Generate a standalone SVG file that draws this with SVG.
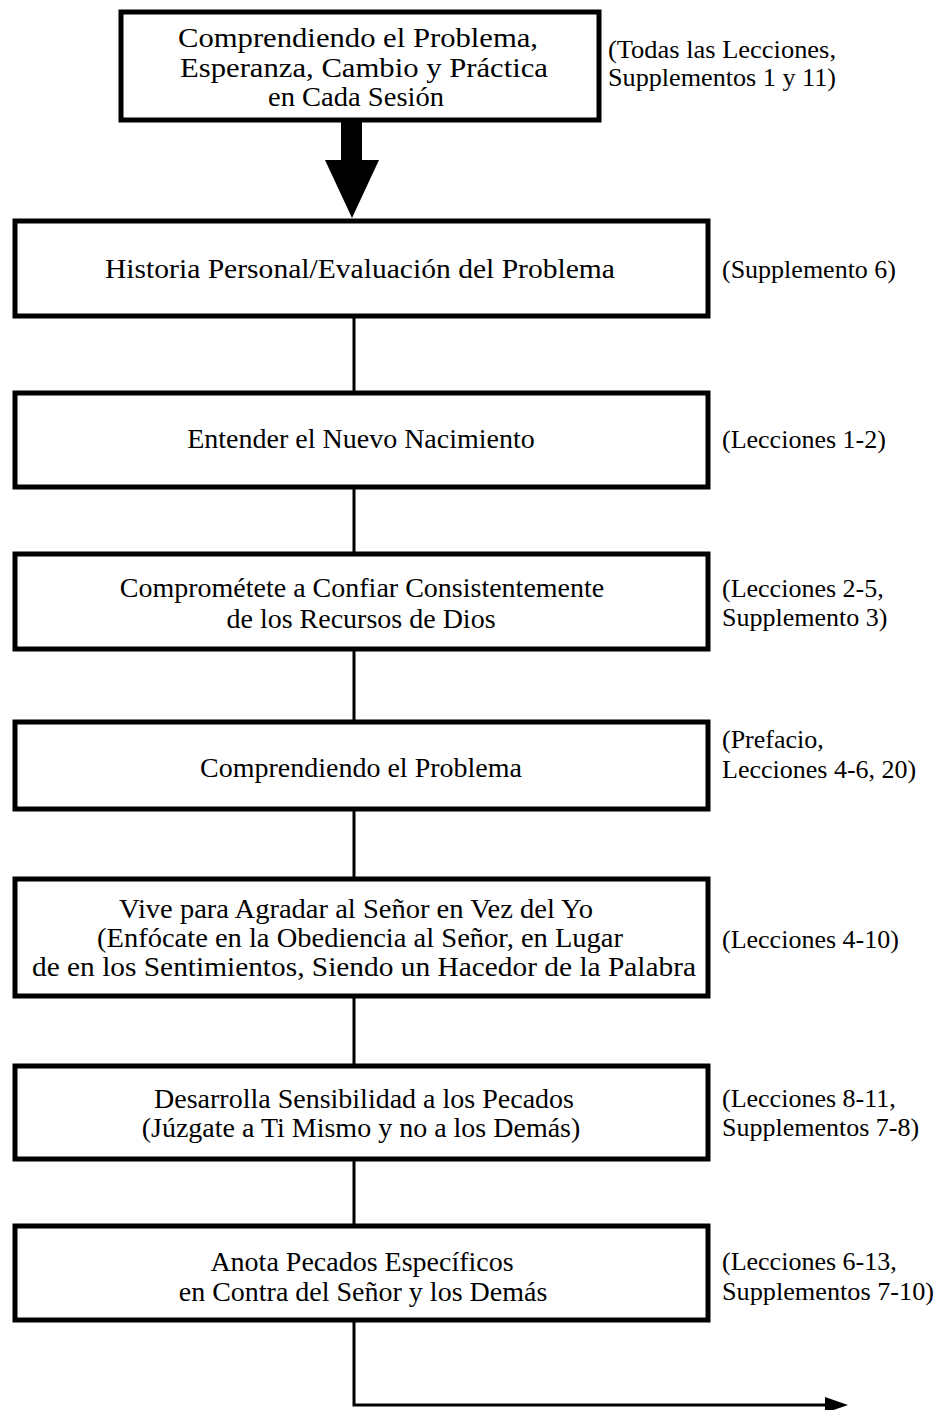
<svg xmlns="http://www.w3.org/2000/svg" width="940" height="1410" viewBox="0 0 940 1410">
<defs>
<style>
.box{fill:#fff;stroke:#000;stroke-width:5}
.t{font-family:"Liberation Serif","Times New Roman",serif;font-size:28px;fill:#000;text-anchor:middle}
.l{font-family:"Liberation Serif","Times New Roman",serif;font-size:26px;fill:#000}
.c{fill:none;stroke:#000;stroke-width:3}
</style>
</defs>
<rect width="940" height="1410" fill="#fff"/>
<g id="connectors">
<polygon points="341,121 362,121 362,160 379,160 352,218 325,160 341,160" fill="#000"/>
<line class="c" x1="354" y1="316" x2="354" y2="393"/>
<line class="c" x1="354" y1="487" x2="354" y2="554"/>
<line class="c" x1="354" y1="649" x2="354" y2="722"/>
<line class="c" x1="354" y1="809" x2="354" y2="879"/>
<line class="c" x1="354" y1="996" x2="354" y2="1066"/>
<line class="c" x1="354" y1="1159" x2="354" y2="1226"/>
<polyline class="c" points="354,1320 354,1405 826,1405"/>
<polygon points="825,1397 848,1405 825,1413" fill="#000"/>
</g>
<g id="n1">
<rect class="box" x="121" y="12" width="478" height="108"/>
<text class="t" x="358" y="47" textLength="360" lengthAdjust="spacingAndGlyphs">Comprendiendo el Problema,</text>
<text class="t" x="364" y="77" textLength="368" lengthAdjust="spacingAndGlyphs">Esperanza, Cambio y Práctica</text>
<text class="t" x="356" y="106" textLength="176" lengthAdjust="spacingAndGlyphs">en Cada Sesión</text>
<text class="l" x="608" y="58" textLength="228" lengthAdjust="spacingAndGlyphs">(Todas las Lecciones,</text>
<text class="l" x="608" y="86" textLength="228" lengthAdjust="spacingAndGlyphs">Supplementos 1 y 11)</text>
</g>
<g id="n2">
<rect class="box" x="15" y="221" width="693" height="95"/>
<text class="t" x="360" y="278" textLength="510" lengthAdjust="spacingAndGlyphs">Historia Personal/Evaluación del Problema</text>
<text class="l" x="722" y="278">(Supplemento 6)</text>
</g>
<g id="n3">
<rect class="box" x="15" y="393" width="693" height="94"/>
<text class="t" x="361" y="448">Entender el Nuevo Nacimiento</text>
<text class="l" x="722" y="448">(Lecciones 1-2)</text>
</g>
<g id="n4">
<rect class="box" x="15" y="554" width="693" height="95"/>
<text class="t" x="362" y="597">Comprométete a Confiar Consistentemente</text>
<text class="t" x="361" y="628">de los Recursos de Dios</text>
<text class="l" x="722" y="597">(Lecciones 2-5,</text>
<text class="l" x="722" y="626">Supplemento 3)</text>
</g>
<g id="n5">
<rect class="box" x="15" y="722" width="693" height="87"/>
<text class="t" x="361" y="777">Comprendiendo el Problema</text>
<text class="l" x="722" y="748">(Prefacio,</text>
<text class="l" x="722" y="778">Lecciones 4-6, 20)</text>
</g>
<g id="n6">
<rect class="box" x="15" y="879" width="693" height="117"/>
<text class="t" x="356" y="918" textLength="474" lengthAdjust="spacingAndGlyphs">Vive para Agradar al Señor en Vez del Yo</text>
<text class="t" x="360" y="947" textLength="526" lengthAdjust="spacingAndGlyphs">(Enfócate en la Obediencia al Señor, en Lugar</text>
<text class="t" x="364" y="976" textLength="664" lengthAdjust="spacingAndGlyphs">de en los Sentimientos, Siendo un Hacedor de la Palabra</text>
<text class="l" x="722" y="948">(Lecciones 4-10)</text>
</g>
<g id="n7">
<rect class="box" x="15" y="1066" width="693" height="93"/>
<text class="t" x="364" y="1108">Desarrolla Sensibilidad a los Pecados</text>
<text class="t" x="361" y="1137">(Júzgate a Ti Mismo y no a los Demás)</text>
<text class="l" x="722" y="1107">(Lecciones 8-11,</text>
<text class="l" x="722" y="1136">Supplementos 7-8)</text>
</g>
<g id="n8">
<rect class="box" x="15" y="1226" width="693" height="94"/>
<text class="t" x="362" y="1271">Anota Pecados Específicos</text>
<text class="t" x="363" y="1301">en Contra del Señor y los Demás</text>
<text class="l" x="722" y="1270">(Lecciones 6-13,</text>
<text class="l" x="722" y="1300" textLength="212" lengthAdjust="spacingAndGlyphs">Supplementos 7-10)</text>
</g>
</svg>
